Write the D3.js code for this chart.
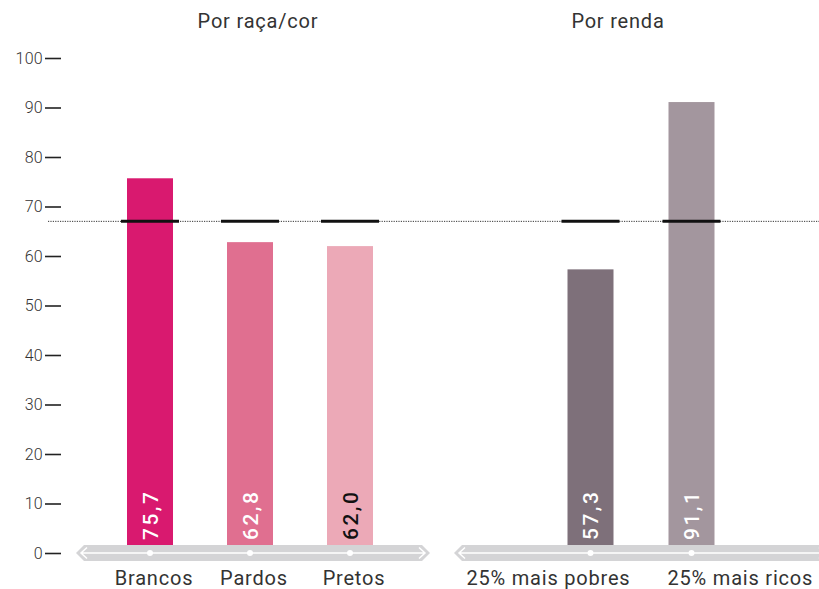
<!DOCTYPE html>
<html><head><meta charset="utf-8">
<script src="https://cdn.jsdelivr.net/npm/d3@7"></script>
<style>
body{margin:0;background:#fff;}
svg{display:block;}
</style></head>
<body>
<script>
const groupTitles = ["Por raça/cor", "Por renda"];
const raceCategories = ["Brancos", "Pardos", "Pretos"];
const raceValues = [75.7, 62.8, 62.0];
const raceLabels = ["75,7", "62,8", "62,0"];
const incomeCategories = ["25% mais pobres", "25% mais ricos"];
const incomeValues = [57.3, 91.1];
const incomeLabels = ["57,3", "91,1"];
const referenceValue = 67;
const yTicks = [0,10,20,30,40,50,60,70,80,90,100];

const raceColors = ["#d9196f", "#e06f90", "#eca9b7"];
const incomeColors = ["#7e707a", "#a3969e"];
const raceLabelColors = ["#fff", "#fff", "#111"];
const incomeLabelColors = ["#fff", "#fff"];

const W = 819, H = 589;
const FONT = "Roboto, sans-serif";
const svg = d3.select("body").append("svg").attr("width", W).attr("height", H);

const y = d3.scaleLinear().domain([0, 100]).range([553, 58]);

// y axis ticks
const yAxis = d3.axisLeft(y).tickValues(yTicks).tickSize(16).tickPadding(2);
const gy = svg.append("g").attr("transform", "translate(61,0)").call(yAxis);
gy.select(".domain").remove();
gy.selectAll(".tick line").attr("stroke", "#222").attr("stroke-width", 1.6);
gy.selectAll(".tick text").attr("fill", "#333").style("font-family", FONT).style("font-weight", 300)
  .style("font-size", "16px").style("letter-spacing", "0.3px");

const groups = [
  {title: groupTitles[0], cats: raceCategories, vals: raceValues, labels: raceLabels, colors: raceColors, lcolors: raceLabelColors, range: [100, 400], band: [76, 430], titleX: 258,
   anchor: (i, cx, bw) => ({a: "middle", x: cx + 4})},
  {title: groupTitles[1], cats: incomeCategories, vals: incomeValues, labels: incomeLabels, colors: incomeColors, lcolors: incomeLabelColors, range: [540, 742], band: [454, 830], titleX: 618,
   anchor: (i, cx, bw) => i === 0 ? {a: "end", x: cx + bw / 2 + 17} : {a: "start", x: cx - bw / 2 - 1}}
];

// dotted reference line
svg.append("line")
  .attr("x1", 48).attr("x2", W)
  .attr("y1", y(referenceValue)).attr("y2", y(referenceValue))
  .attr("stroke", "#333").attr("stroke-width", 1).attr("stroke-dasharray", "1.2,1.2");

groups.forEach(g => {
  const x = d3.scaleBand().domain(g.cats).range(g.range).paddingInner(0.54).paddingOuter(0.27);
  const bw = 46;
  const cx = c => x(c) + x.bandwidth() / 2;
  const data = g.cats.map((c, i) => ({c, i, v: g.vals[i], l: g.labels[i], col: g.colors[i], lc: g.lcolors[i]}));

  svg.append("text").attr("x", g.titleX).attr("y", 28).attr("text-anchor", "middle")
    .attr("fill", "#333").style("font-family", FONT).style("font-size", "20px").style("letter-spacing", "0.8px").text(g.title);

  svg.selectAll(null).data(data).enter().append("rect")
    .attr("x", d => cx(d.c) - bw / 2).attr("width", bw)
    .attr("y", d => y(d.v)).attr("height", d => y(0) - y(d.v))
    .attr("fill", d => d.col);

  // reference marks
  svg.selectAll(null).data(data).enter().append("line")
    .attr("x1", d => cx(d.c) - 29).attr("x2", d => cx(d.c) + 29)
    .attr("y1", y(referenceValue)).attr("y2", y(referenceValue))
    .attr("stroke", "#111").attr("stroke-width", 3);

  // axis band
  const [b0, b1] = g.band;
  const yc = y(0), hh = 8;
  svg.append("path")
    .attr("d", `M${b0},${yc} L${b0+8},${yc-hh} L${b1-8},${yc-hh} L${b1},${yc} L${b1-8},${yc+hh} L${b0+8},${yc+hh} Z`)
    .attr("fill", "#d4d4d6");
  svg.append("path")
    .attr("d", `M${b0+11},${yc-5.5} L${b0+5},${yc} L${b0+11},${yc+5.5} M${b0+5},${yc} L${b1-5},${yc} M${b1-11},${yc-5.5} L${b1-5},${yc} L${b1-11},${yc+5.5}`)
    .attr("fill", "none").attr("stroke", "#fff").attr("stroke-width", 1.5);
  svg.selectAll(null).data(data).enter().append("circle")
    .attr("cx", d => cx(d.c)).attr("cy", yc).attr("r", 3).attr("fill", "#fff");

  // value labels
  svg.selectAll(null).data(data).enter().append("text")
    .attr("transform", d => `translate(${cx(d.c) + 7.5},${y(0) - 13}) rotate(-90)`)
    .attr("fill", d => d.lc)
    .style("font-family", FONT).style("font-weight", 500).style("font-size", "21px").style("letter-spacing", "2.5px")
    .text(d => d.l);

  // category labels
  svg.selectAll(null).data(data).enter().append("text")
    .each(function(d) {
      const p = g.anchor(d.i, cx(d.c), bw);
      d3.select(this).attr("x", p.x).attr("text-anchor", p.a);
    })
    .attr("y", 585)
    .attr("fill", "#333").style("font-family", FONT).style("font-size", "20px").style("letter-spacing", "0.8px")
    .text(d => d.c);
});
</script>
</body></html>
